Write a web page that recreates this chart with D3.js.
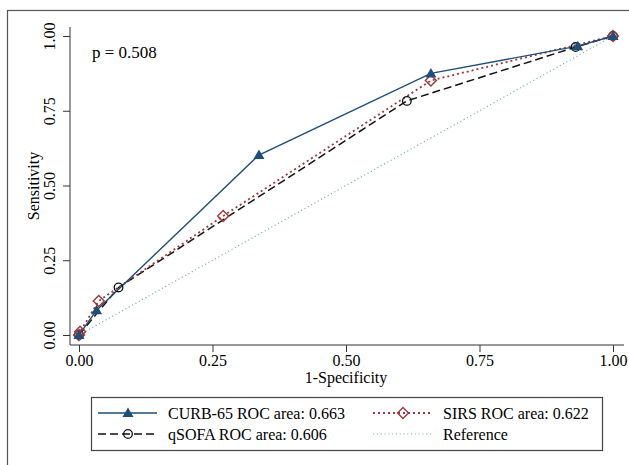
<!DOCTYPE html>
<html lang="en">
<head>
  <meta charset="UTF-8" />
  <title>ROC curves</title>
  <script src="https://d3js.org/d3.v7.min.js"></script>
  <style>
    body {
      margin: 0;
      background: #fff;
    }
    svg text {
      font-family: "Liberation Serif", "Times New Roman", serif;
    }
  </style>
</head>
<body>
  <div id="chart"></div>

  <script>
    // values
    const curbX = [0, 0.033, 0.337, 0.659, 0.934, 1];
    const curbY = [0, 0.083, 0.602, 0.875, 0.966, 1];
    const sirsX = [0, 0.002, 0.037, 0.27, 0.659, 1];
    const sirsY = [0, 0.011, 0.114, 0.398, 0.851, 1];
    const qsofaX = [0, 0.074, 0.614, 0.93, 1];
    const qsofaY = [0, 0.159, 0.783, 0.963, 1];
    const refX = [0, 1];
    const refY = [0, 1];
    const ticks = [0, 0.25, 0.5, 0.75, 1];
    const legendLabels = [
      "CURB-65 ROC area: 0.663",
      "SIRS ROC area: 0.622",
      "qSOFA ROC area: 0.606",
      "Reference"
    ];

    const width = 629;
    const height = 465;

    const svg = d3.select("#chart")
      .append("svg")
      .attr("width", width)
      .attr("height", height)
      .style("display", "block");

    // outer frame
    svg.append("rect")
      .attr("x", 7.5).attr("y", 10.5)
      .attr("width", width).attr("height", height)
      .attr("fill", "none")
      .attr("stroke", "#555")
      .attr("stroke-width", 1.2);

    const x = d3.scaleLinear().domain([0, 1]).range([79, 613]);
    const y = d3.scaleLinear().domain([0, 1]).range([335, 36]);

    const fmt = d3.format(".2f");

    // axes
    const xAxis = svg.append("g")
      .attr("transform", "translate(0,345)")
      .call(d3.axisBottom(x).tickValues(ticks).tickFormat(fmt).tickSize(7).tickSizeOuter(0));
    xAxis.select(".domain").attr("d", "M70,0H624");
    xAxis.selectAll("text").attr("font-size", 16);

    const yAxis = svg.append("g")
      .attr("transform", "translate(70,0)")
      .call(d3.axisLeft(y).tickValues(ticks).tickFormat(fmt).tickSize(7).tickSizeOuter(0));
    yAxis.select(".domain").attr("d", "M0,27V345");
    yAxis.selectAll("text")
      .attr("font-size", 16)
      .attr("transform", "rotate(-90)")
      .attr("x", 0)
      .attr("y", -15)
      .attr("dy", 0)
      .attr("text-anchor", "middle");
    svg.selectAll(".domain, .tick line").attr("stroke", "#333");

    svg.append("text")
      .attr("x", x(0.5)).attr("y", 383)
      .attr("text-anchor", "middle")
      .attr("font-size", 16)
      .text("1-Specificity");

    svg.append("text")
      .attr("transform", "translate(39,186) rotate(-90)")
      .attr("text-anchor", "middle")
      .attr("font-size", 16)
      .text("Sensitivity");

    svg.append("text")
      .attr("x", 92).attr("y", 58)
      .attr("font-size", 17)
      .text("p = 0.508");

    const line = d3.line().x(d => x(d[0])).y(d => y(d[1]));
    const zip = (a, b) => a.map((v, i) => [v, b[i]]);

    const series = [
      { pts: zip(refX, refY), color: "#7fb5b0", dash: "1.2,2.6", width: 1.2, marker: null },
      { pts: zip(qsofaX, qsofaY), color: "#111", dash: "8,4", width: 1.5, marker: "circle" },
      { pts: zip(sirsX, sirsY), color: "#a0363b", dash: "2,3", width: 1.8, marker: "diamond" },
      { pts: zip(curbX, curbY), color: "#1f4e79", dash: null, width: 1.4, marker: "triangle" }
    ];

    function drawMarker(g, kind, color, cx, cy) {
      if (kind === "circle") {
        g.append("circle").attr("cx", cx).attr("cy", cy).attr("r", 4.3)
          .attr("fill", "none").attr("stroke", color).attr("stroke-width", 1.3);
      } else if (kind === "diamond") {
        g.append("path")
          .attr("d", `M${cx},${cy - 5.5}L${cx + 5.5},${cy}L${cx},${cy + 5.5}L${cx - 5.5},${cy}Z`)
          .attr("fill", "none").attr("stroke", color).attr("stroke-width", 1.4);
      } else if (kind === "triangle") {
        g.append("path")
          .attr("d", `M${cx},${cy - 5.5}L${cx + 5.5},${cy + 4}L${cx - 5.5},${cy + 4}Z`)
          .attr("fill", color);
      }
    }

    const plot = svg.append("g");
    series.forEach(s => {
      plot.append("path")
        .attr("d", line(s.pts))
        .attr("fill", "none")
        .attr("stroke", s.color)
        .attr("stroke-width", s.width)
        .attr("stroke-dasharray", s.dash);
    });
    series.forEach(s => {
      if (!s.marker) return;
      s.pts.forEach(p => drawMarker(plot, s.marker, s.color, x(p[0]), y(p[1])));
    });

    // legend
    const legend = svg.append("g");
    legend.append("rect")
      .attr("x", 91.5).attr("y", 397.5)
      .attr("width", 511).attr("height", 53)
      .attr("fill", "#fff")
      .attr("stroke", "#444")
      .attr("stroke-width", 1.2);

    const legendItems = [
      { s: series[3], label: legendLabels[0], lx: 98, ty: 413 },
      { s: series[2], label: legendLabels[1], lx: 373, ty: 413 },
      { s: series[1], label: legendLabels[2], lx: 98, ty: 434 },
      { s: series[0], label: legendLabels[3], lx: 373, ty: 434 }
    ];
    legendItems.forEach(it => {
      legend.append("line")
        .attr("x1", it.lx).attr("x2", it.lx + 59)
        .attr("y1", it.ty).attr("y2", it.ty)
        .attr("stroke", it.s.color)
        .attr("stroke-width", it.s.width)
        .attr("stroke-dasharray", it.s.dash);
      if (it.s.marker) drawMarker(legend, it.s.marker, it.s.color, it.lx + 30, it.ty);
      legend.append("text")
        .attr("x", it.lx + 70).attr("y", it.ty + 5.5)
        .attr("font-size", 16)
        .text(it.label);
    });
  </script>
</body>
</html>
